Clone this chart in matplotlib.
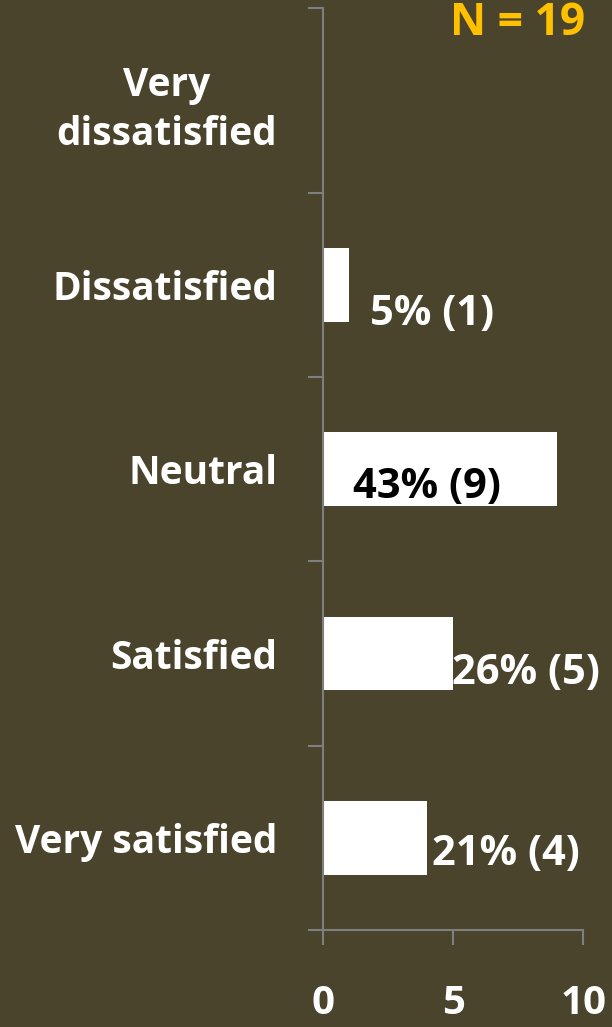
import numpy as np
import matplotlib.pyplot as plt
from matplotlib.ticker import FixedLocator

# Satisfaction survey responses
categories = ['Very\ndissatisfied', 'Dissatisfied', 'Neutral', 'Satisfied', 'Very satisfied']
counts = [0, 1, 9, 5, 4]
percents = [0, 5, 43, 26, 21]
n_total = 19

bg = '#4a442d'
axis_grey = '#7f7f7f'
font = 'Open Sans'

fig = plt.figure(figsize=(6.12, 10.27), dpi=100, facecolor=bg)
ax = fig.add_axes([0.528, 0.0944, 0.425, 0.8976])
ax.set_facecolor(bg)

ypos = np.arange(len(categories))
ax.barh(ypos, counts, height=0.4, color='white')
ax.set_ylim(len(categories) - 0.5, -0.5)
ax.set_xlim(0, 10)

# value labels: offsets from bar end / bar centre (data units), colour
label_dx = [0, 0.8, -7.85, -0.05, 0.2]
label_dy = [0, 0.16, 0.1, 0.11, 0.09]
label_col = ['white', 'white', 'black', 'white', 'white']
for i, (c, p) in enumerate(zip(counts, percents)):
    if c == 0:
        continue
    ax.text(c + label_dx[i], i + label_dy[i], f'{p}% ({c})', ha='left', va='center',
            color=label_col[i], fontsize=30, fontweight='bold', family=font)

for s in ['top', 'right']:
    ax.spines[s].set_visible(False)
for s in ['left', 'bottom']:
    ax.spines[s].set_color(axis_grey)
    ax.spines[s].set_linewidth(1.5)

ax.set_xticks([0, 5, 10])
ax.set_xticklabels(['0', '5', '10'])
ax.tick_params(axis='x', colors=axis_grey, length=11, width=1.5, pad=28,
               labelcolor='white', labelsize=29)

ax.set_yticks(ypos)
ax.set_yticklabels(categories)
ax.yaxis.set_minor_locator(FixedLocator(np.arange(-0.5, len(categories), 1.0)))
ax.tick_params(axis='y', which='major', length=0, pad=33, labelcolor='white', labelsize=28)
ax.tick_params(axis='y', which='minor', length=11, width=1.5, color=axis_grey)

for lbl in ax.get_xticklabels() + ax.get_yticklabels():
    lbl.set_fontweight('bold')
    lbl.set_family(font)
ax.get_yticklabels()[0].set_multialignment('center')
ax.get_yticklabels()[0].set_linespacing(1.35)

fig.text(0.956, 0.966, f'N = {n_total}', ha='right', va='baseline', color='#ffc000',
         fontsize=32, fontweight='bold', family=font)

fig.savefig('out.png', dpi=100, facecolor=bg)
